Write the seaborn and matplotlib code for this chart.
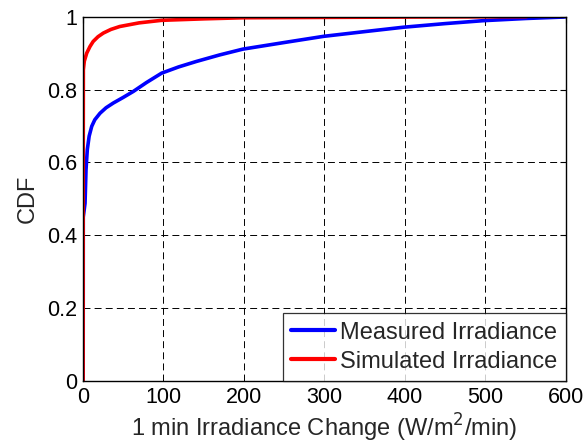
import numpy as np
import pandas as pd
import seaborn as sns
import matplotlib.pyplot as plt

# CDF curves
measured_x = [0.6, 0.7, 2.9, 4.1, 5.7, 8, 11.2, 15, 21.5, 29, 38, 50, 63, 79, 98, 119, 141, 170,
              199, 250, 299, 350, 398, 450, 497, 550, 597, 600]
measured_cdf = [0, 0.45, 0.488, 0.58, 0.635, 0.672, 0.699, 0.717, 0.735, 0.75, 0.763, 0.778, 0.795,
                0.819, 0.845, 0.862, 0.877, 0.895, 0.911, 0.929, 0.946, 0.959, 0.971, 0.981,
                0.989, 0.995, 0.999, 1.0]
simulated_x = [0.5, 0.6, 0.8, 2, 5, 9, 13, 19, 25.6, 35, 46, 70, 98, 150, 199, 300, 400, 551]
simulated_cdf = [0, 0.5, 0.854, 0.878, 0.900, 0.918, 0.932, 0.945, 0.955, 0.965, 0.973, 0.983,
                 0.990, 0.994, 0.997, 0.998, 0.999, 1.0]

labels = ['Measured Irradiance', 'Simulated Irradiance']
colors = ['#0000ff', '#ff0000']

df = pd.concat([
    pd.DataFrame({'x': measured_x, 'cdf': measured_cdf, 'series': labels[0]}),
    pd.DataFrame({'x': simulated_x, 'cdf': simulated_cdf, 'series': labels[1]}),
])

sns.set_style('white')
plt.rcParams['font.family'] = ['Liberation Sans', 'DejaVu Sans']
plt.rcParams['lines.scale_dashes'] = False

fig = plt.figure(figsize=(5.87, 4.47), dpi=100)
ax = fig.add_axes([0.1409, 0.1477, 0.8233, 0.815])

sns.lineplot(data=df, x='x', y='cdf', hue='series', palette=colors, sort=False,
             estimator=None, linewidth=2.6, ax=ax)

ax.set_xlim(0, 600)
ax.set_ylim(0, 1)
ax.set_xticks([0, 100, 200, 300, 400, 500, 600])
ax.set_yticks([0, 0.2, 0.4, 0.6, 0.8, 1])
ax.set_yticklabels(['0', '0.2', '0.4', '0.6', '0.8', '1'])
ax.tick_params(direction='in', top=True, right=True, length=4, width=0.8,
               labelsize=15.5, colors='k', pad=4)
ax.grid(True, color='k', linestyle=(0, (5, 3)), linewidth=0.7)
for s in ax.spines.values():
    s.set_color('k')
    s.set_linewidth(1.0)

ax.set_xlabel('1 min Irradiance Change (W/m$^2$/min)', fontsize=17, labelpad=3)
ax.set_ylabel('CDF', fontsize=17, labelpad=6)

leg = ax.legend(loc='lower right', fontsize=17, frameon=True, fancybox=False,
                handlelength=1.85, borderaxespad=0.0, borderpad=0.35, labelspacing=0.3,
                handletextpad=0.25)
leg.get_frame().set_edgecolor('k')
leg.get_frame().set_linewidth(0.9)
for line in leg.get_lines():
    line.set_linewidth(3)

fig.savefig('out.png', dpi=100)
